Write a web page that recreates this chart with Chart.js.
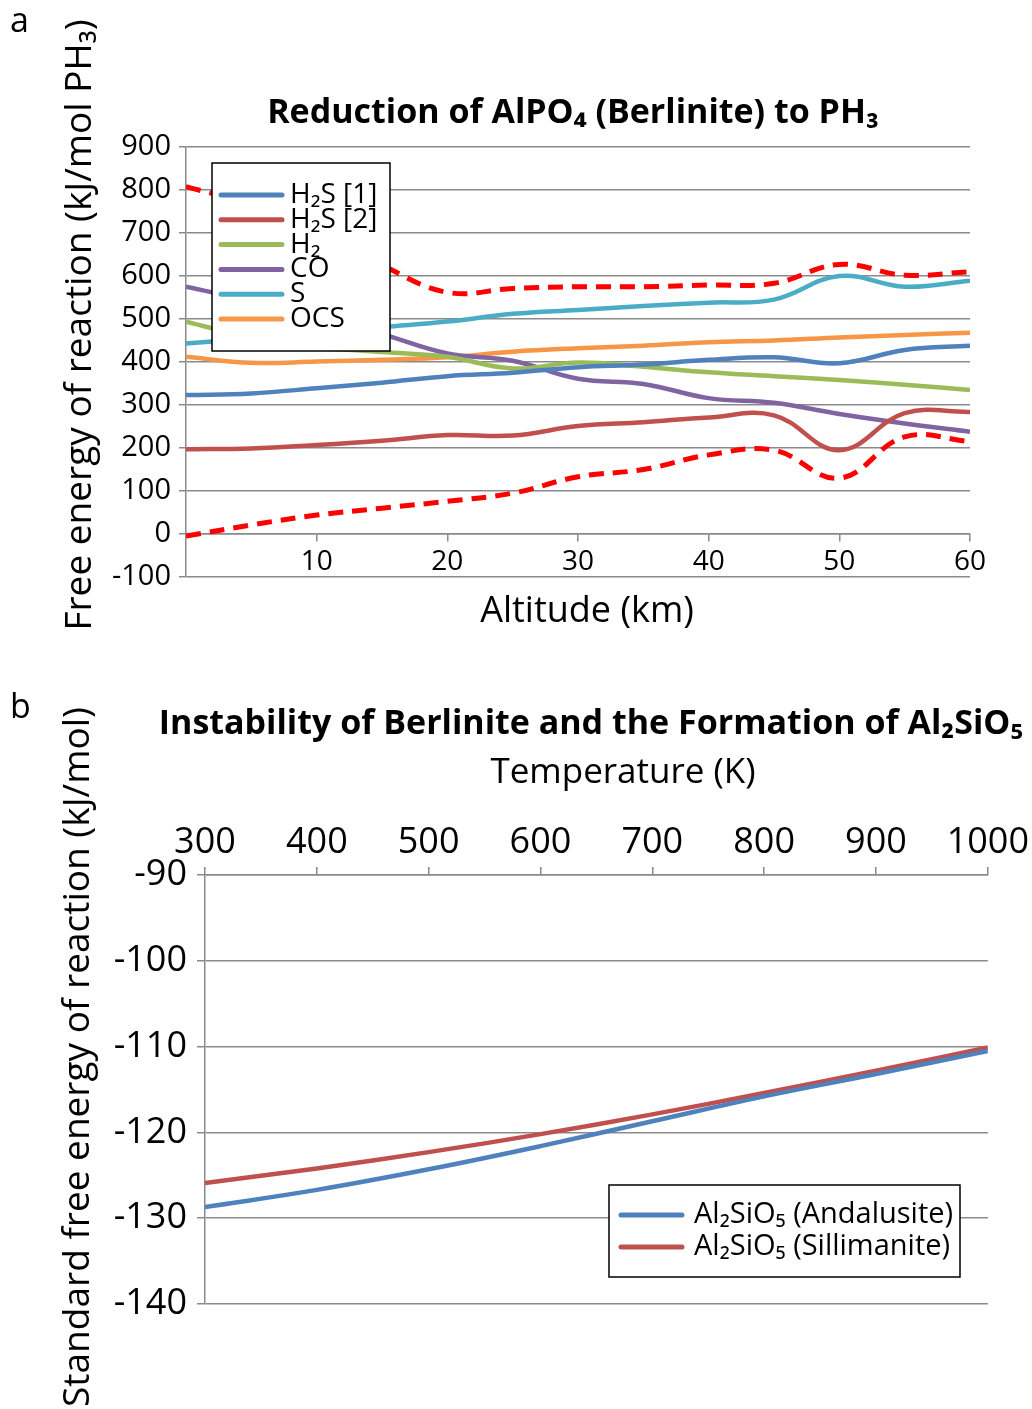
<!DOCTYPE html>
<html>
<head>
<meta charset="utf-8">
<script src="https://cdn.jsdelivr.net/npm/chart.js@4.4.1/dist/chart.umd.min.js"></script>
<style>
body { margin:0; background:#fff; }
#wrap { position:relative; width:1032px; height:1409px; overflow:hidden; font-family:'Open Sans', sans-serif; }
.panel { position:absolute; left:0; width:1032px; }
#boxA { top:0; height:650px; }
#boxB { top:650px; height:759px; }
.tag { position:absolute; left:10px; font-size:34px; line-height:1; color:#000; }
</style>
</head>
<body>
<div id="wrap">
  <div class="panel" id="boxA"><canvas id="chartA"></canvas></div>
  <div class="panel" id="boxB"><canvas id="chartB"></canvas></div>
  <div class="tag" style="top:2px">a</div>
  <div class="tag" style="top:688px">b</div>
</div>
<script>
/********** panel a : reduction of berlinite vs altitude **********/
var altitude = [0, 5, 10, 15, 20, 25, 30, 35, 40, 45, 50, 55, 60]
var h2s1  = [323, 327, 339, 352, 367, 375, 388, 394, 405, 411, 397, 428, 438]
var h2s2  = [197, 199, 207, 217, 230, 229, 251, 260, 271, 276, 195, 281, 284]
var h2    = [494, 457, 435, 423, 412, 385, 399, 389, 376, 367, 358, 347, 335]
var co    = [575, 542, 505, 465, 420, 403, 361, 349, 316, 305, 279, 257, 238]
var sulf  = [443, 455, 467, 481, 494, 512, 521, 530, 538, 545, 600, 575, 589]
var ocs   = [412, 398, 401, 405, 411, 424, 432, 438, 446, 450, 457, 463, 468]
var upper = [808, 765, 700, 625, 562, 571, 575, 575, 579, 583, 627, 602, 610]
var lower = [-5, 21, 44, 60, 76, 95, 133, 150, 184, 195, 130, 226, 215]
var altTicks = [10, 20, 30, 40, 50, 60]
var energyTicks = [-100, 0, 100, 200, 300, 400, 500, 600, 700, 800, 900]

/********** panel b : Al2SiO5 formation vs temperature **********/
var temperature = [300, 400, 500, 600, 700, 800, 900, 1000]
var andalusite  = [-128.7, -126.7, -124.3, -121.6, -118.7, -115.8, -113.2, -110.5]
var sillimanite = [-125.9, -124.2, -122.3, -120.2, -117.9, -115.4, -112.8, -110.1]
var tempTicks = [300, 400, 500, 600, 700, 800, 900, 1000]
var stdTicks = [-140, -130, -120, -110, -100, -90]

var FONT = "'Open Sans', 'Noto Sans', sans-serif"
var gridColor = '#8a8a8a'

// legend with a black frame, drawn over the plot like excel does
var boxLegend = {
    id: 'boxLegend',
    afterDraw: function(chart, args, o){
        var ctx = chart.ctx
        ctx.save()
        ctx.fillStyle = '#fff'
        ctx.fillRect(o.x, o.y, o.w, o.h)
        ctx.strokeStyle = '#000'
        ctx.lineWidth = 1.5
        ctx.strokeRect(o.x, o.y, o.w, o.h)
        ctx.font = o.size + 'px ' + FONT
        ctx.textBaseline = 'middle'
        var row = 0
        chart.data.datasets.forEach(function(ds){
            if(ds.noLegend) return
            var cy = o.firstRow + row * o.rowH
            ctx.strokeStyle = ds.borderColor
            ctx.lineWidth = 5
            ctx.lineCap = 'round'
            ctx.beginPath()
            ctx.moveTo(o.lineX0, cy)
            ctx.lineTo(o.lineX1, cy)
            ctx.stroke()
            ctx.fillStyle = '#000'
            ctx.fillText(ds.label, o.textX, cy)
            row++
        })
        ctx.restore()
    }
}

// titles placed by hand, the original ones are not centred on the plot
var freeText = {
    id: 'freeText',
    afterDraw: function(chart, args, o){
        var ctx = chart.ctx
        o.items.forEach(function(it){
            ctx.save()
            ctx.translate(it.x, it.y)
            if(it.rotate) ctx.rotate(-Math.PI / 2)
            ctx.font = (it.bold ? 'bold ' : '') + it.size + 'px ' + FONT
            ctx.fillStyle = '#000'
            ctx.textAlign = 'center'
            ctx.textBaseline = 'middle'
            ctx.fillText(it.text, 0, 0)
            ctx.restore()
        })
    }
}

function series(xs, label, values, color, dashed){
    return {
        label: label,
        data: xs.map(function(x, i){ return {x: x, y: values[i]} }),
        borderColor: color,
        backgroundColor: color,
        borderWidth: dashed ? 5 : 4.5,
        borderDash: dashed ? [15, 9] : [],
        pointRadius: 0,
        tension: 0.4,
        noLegend: dashed
    }
}

function fixTicks(list){
    return function(axis){ axis.ticks = list.map(function(v){ return {value: v} }) }
}
function plain(v){ return String(v) }

var chartA = new Chart(document.getElementById('chartA'), {
    type: 'line',
    plugins: [boxLegend, freeText],
    data: {
        datasets: [
            series(altitude, 'H₂S [1]', h2s1, '#4F81BD'),
            series(altitude, 'H₂S [2]', h2s2, '#C0504D'),
            series(altitude, 'H₂', h2, '#9BBB59'),
            series(altitude, 'CO', co, '#8064A2'),
            series(altitude, 'S', sulf, '#4BACC6'),
            series(altitude, 'OCS', ocs, '#F79646'),
            series(altitude, 'upper', upper, '#FF0000', true),
            series(altitude, 'lower', lower, '#FF0000', true)
        ]
    },
    options: {
        responsive: true,
        maintainAspectRatio: false,
        animation: false,
        layout: { padding: { left: 0, right: 62, top: 147, bottom: 73 } },
        plugins: {
            legend: { display: false },
            tooltip: { enabled: false },
            title: { display: false },
            boxLegend: { x: 212, y: 163, w: 178, h: 188, firstRow: 195, rowH: 24.8, lineX0: 221, lineX1: 282, textX: 290, size: 28 },
            freeText: { items: [
                { text: 'Reduction of AlPO₄ (Berlinite) to PH₃', x: 573, y: 113, size: 34, bold: true },
                { text: 'Altitude (km)', x: 587, y: 612, size: 36 },
                { text: 'Free energy of reaction (kJ/mol PH₃)', x: 80, y: 325, size: 37, rotate: true }
            ] }
        },
        scales: {
            x: {
                type: 'linear',
                min: 0, max: 60,
                position: { y: 0 },
                afterBuildTicks: fixTicks(altTicks),
                grid: { drawOnChartArea: false, tickLength: 7, color: gridColor, lineWidth: 1.5 },
                border: { color: gridColor, width: 1.5 },
                ticks: { color: '#000', font: { family: FONT, size: 28 }, padding: 4, maxRotation: 0, callback: plain }
            },
            y: {
                min: -100, max: 900,
                afterBuildTicks: fixTicks(energyTicks),
                afterFit: function(s){ s.width = 186 },
                grid: { color: gridColor, lineWidth: 1.5, tickLength: 7 },
                border: { color: gridColor, width: 1.5 },
                ticks: { color: '#000', font: { family: FONT, size: 29 }, padding: 8, callback: plain }
            }
        }
    }
})

var chartB = new Chart(document.getElementById('chartB'), {
    type: 'line',
    plugins: [boxLegend, freeText],
    data: {
        datasets: [
            series(temperature, 'Al₂SiO₅ (Andalusite)', andalusite, '#4F81BD'),
            series(temperature, 'Al₂SiO₅ (Sillimanite)', sillimanite, '#C0504D')
        ]
    },
    options: {
        responsive: true,
        maintainAspectRatio: false,
        animation: false,
        layout: { padding: { left: 0, right: 44, top: 91, bottom: 105 } },
        plugins: {
            legend: { display: false },
            tooltip: { enabled: false },
            title: { display: false },
            boxLegend: { x: 609, y: 535, w: 351, h: 92, firstRow: 565, rowH: 32, lineX0: 621, lineX1: 682, textX: 694, size: 29 },
            freeText: { items: [
                { text: 'Instability of Berlinite and the Formation of Al₂SiO₅', x: 591, y: 74, size: 34, bold: true },
                { text: 'Temperature (K)', x: 623, y: 123, size: 35 },
                { text: 'Standard free energy of reaction (kJ/mol)', x: 78, y: 407, size: 37, rotate: true }
            ] }
        },
        scales: {
            x: {
                type: 'linear',
                position: 'top',
                min: 300, max: 1000,
                afterBuildTicks: fixTicks(tempTicks),
                afterFit: function(s){ s.height = 134 },
                grid: { drawOnChartArea: false, tickLength: 8, color: gridColor, lineWidth: 1.5 },
                border: { color: gridColor, width: 1.5 },
                ticks: { color: '#000', font: { family: FONT, size: 36 }, padding: 3, maxRotation: 0, callback: plain }
            },
            y: {
                min: -140, max: -90,
                afterBuildTicks: fixTicks(stdTicks),
                afterFit: function(s){ s.width = 205 },
                grid: { color: gridColor, lineWidth: 1.5, tickLength: 8 },
                border: { color: gridColor, width: 1.5 },
                ticks: { color: '#000', font: { family: FONT, size: 36 }, padding: 10, callback: plain }
            }
        }
    }
})
</script>
</body>
</html>
